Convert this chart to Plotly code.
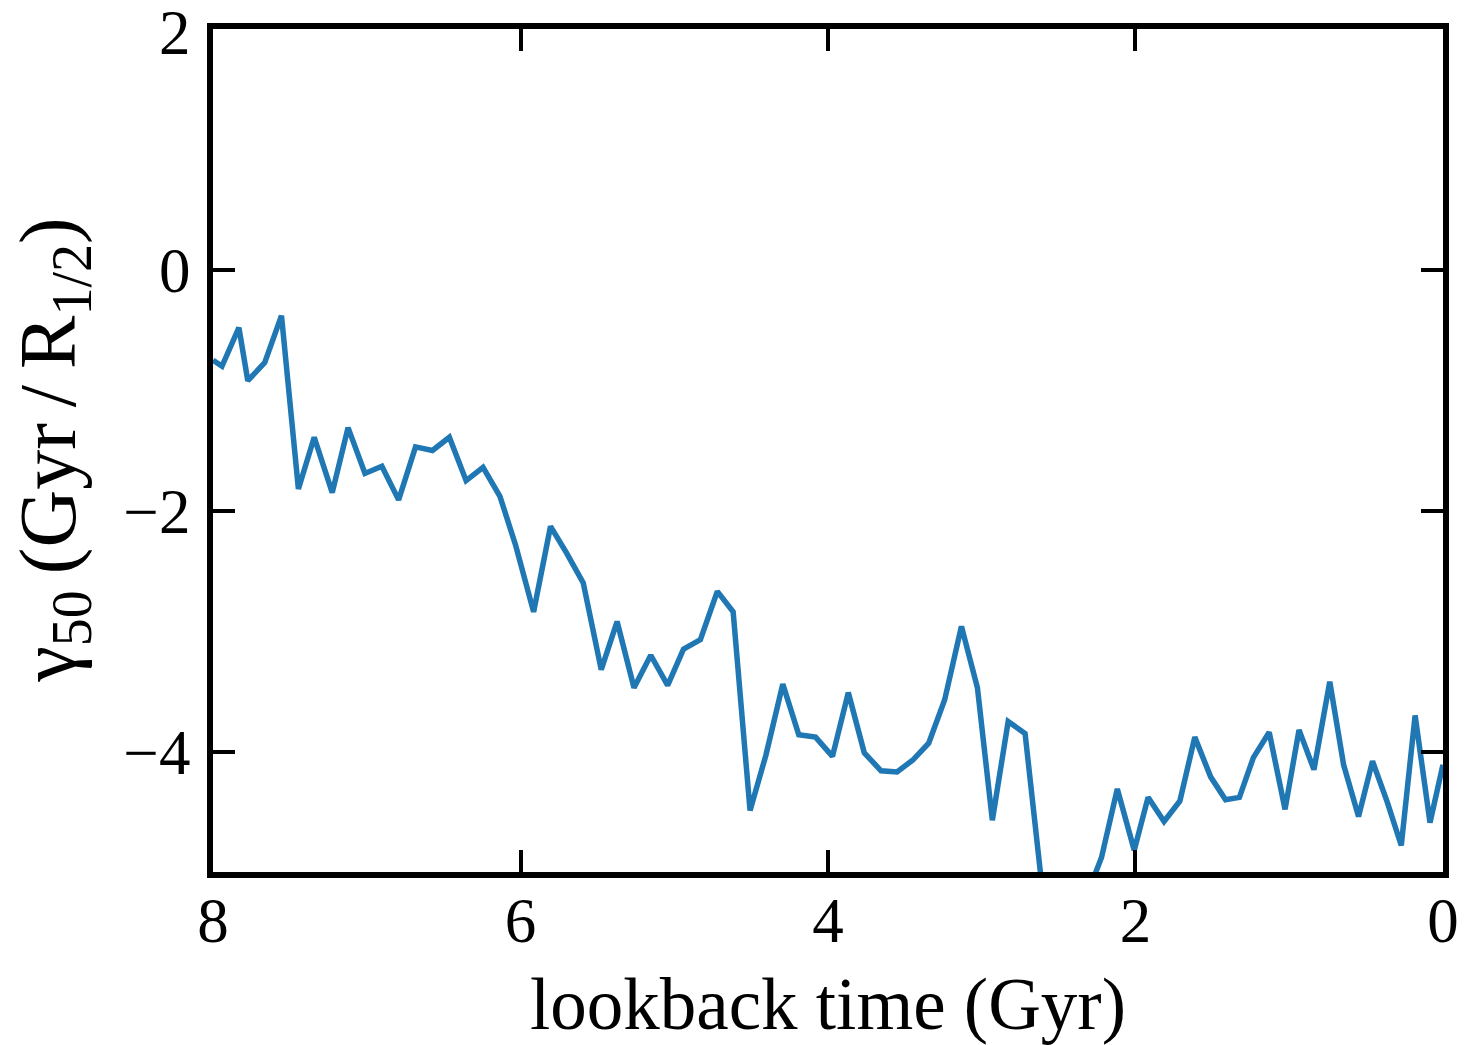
import plotly.graph_objects as go

# lookback time (Gyr)
lookback_time = [8.000, 7.942, 7.832, 7.774, 7.664, 7.555, 7.445, 7.342, 7.225, 7.122,
                 7.012, 6.902, 6.793, 6.683, 6.573, 6.463, 6.354, 6.244, 6.134, 6.031,
                 5.915, 5.805, 5.701, 5.592, 5.475, 5.372, 5.262, 5.153, 5.043, 4.940,
                 4.830, 4.720, 4.617, 4.507, 4.404, 4.294, 4.190, 4.081, 3.971, 3.868,
                 3.764, 3.655, 3.551, 3.448, 3.345, 3.241, 3.132, 3.028, 2.931, 2.828,
                 2.718, 2.610, 2.511, 2.415, 2.318, 2.221, 2.118, 2.008, 1.918, 1.814,
                 1.711, 1.614, 1.511, 1.414, 1.324, 1.233, 1.130, 1.027, 0.936, 0.839,
                 0.736, 0.646, 0.549, 0.458, 0.362, 0.271, 0.181, 0.084, 0.000]
# gamma_50 (Gyr / R_1/2)
gamma50 = [-0.75, -0.80, -0.48, -0.92, -0.77, -0.38, -1.82, -1.39, -1.85, -1.31,
           -1.69, -1.63, -1.91, -1.47, -1.50, -1.39, -1.75, -1.64, -1.88, -2.29,
           -2.84, -2.13, -2.35, -2.60, -3.32, -2.92, -3.47, -3.20, -3.45, -3.15,
           -3.07, -2.67, -2.84, -4.49, -4.03, -3.44, -3.86, -3.88, -4.04, -3.51,
           -4.01, -4.16, -4.17, -4.07, -3.93, -3.57, -2.96, -3.47, -4.57, -3.75,
           -3.85, -5.10, -5.50, -5.50, -5.20, -4.88, -4.31, -4.82, -4.38, -4.58,
           -4.41, -3.88, -4.21, -4.40, -4.38, -4.05, -3.84, -4.48, -3.82, -4.15,
           -3.42, -4.11, -4.54, -4.08, -4.42, -4.78, -3.70, -4.59, -4.11]

x_ticks = [8, 6, 4, 2, 0]
y_ticks = [2, 0, -2, -4]
y_top = 2

def fmt(v):
    return str(v).replace("-", "\u2212")

fig = go.Figure()
fig.add_trace(go.Scatter(x=lookback_time, y=gamma50, mode="lines",
                         line=dict(color="#1f77b4", width=5.5),
                         showlegend=False, hoverinfo="skip"))

font_family = "Liberation Serif"
tick_font = dict(family=font_family, size=63, color="black")
axis_common = dict(showline=True, linecolor="black", linewidth=6, mirror="ticks",
                   ticks="inside", ticklen=22, tickwidth=4, tickcolor="black",
                   showgrid=False, zeroline=False, tickfont=tick_font)

fig.update_xaxes(range=[8.0005, -0.0005], tickvals=x_ticks, ticktext=[fmt(v) for v in x_ticks],
                 ticklabelstandoff=-12, **axis_common)
# the label at the very top edge is hidden by plotly, so it is drawn as an annotation
fig.update_yaxes(range=[-5, 2.0005], tickvals=y_ticks,
                 ticktext=["" if v == y_top else fmt(v) for v in y_ticks],
                 ticklabelstandoff=4, **axis_common)

thin = "\u2009"
fig.update_layout(
    width=1471, height=1045,
    margin=dict(l=213, r=19, t=29, b=173),
    paper_bgcolor="white", plot_bgcolor="white",
    font=dict(family=font_family, color="black"),
    annotations=[
        dict(text=fmt(y_top), xref="paper", yref="y", x=0, y=y_top,
             xanchor="right", yanchor="middle", xshift=-20, yshift=-4,
             showarrow=False, font=tick_font),
        dict(text="lookback time (Gyr)", xref="paper", yref="paper",
             x=0.5, y=-0.157, xanchor="center", yanchor="middle",
             showarrow=False, font=dict(family=font_family, size=73, color="black")),
        dict(text="\u03b3<sub>50</sub>" + thin + "(Gyr" + thin + "/" + thin + "R<sub>1/2</sub>)",
             xref="paper", yref="paper",
             x=-0.13, y=0.5, xanchor="center", yanchor="middle", textangle=-90,
             showarrow=False, font=dict(family=font_family, size=80, color="black")),
    ],
)

fig.write_html("out.html")
